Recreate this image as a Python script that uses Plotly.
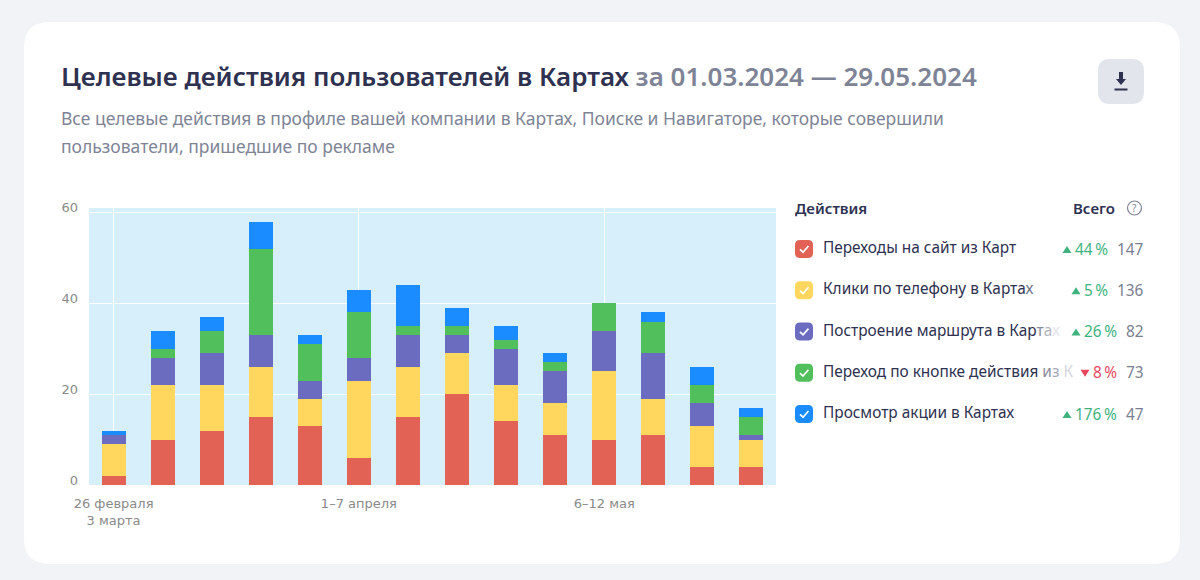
import plotly.graph_objects as go

weeks = ["26 февраля<br>3 марта", "4–10 марта", "11–17 марта", "18–24 марта", "25–31 марта",
         "1–7 апреля", "8–14 апреля", "15–21 апреля", "22–28 апреля", "29 апреля – 5 мая",
         "6–12 мая", "13–19 мая", "20–26 мая", "27 мая – 2 июня"]
tick_weeks = ["26 февраля<br>3 марта", "1–7 апреля", "6–12 мая"]

site_clicks = [2, 10, 12, 15, 13, 6, 15, 20, 14, 11, 10, 11, 4, 4]
phone_clicks = [7, 12, 10, 11, 6, 17, 11, 9, 8, 7, 15, 8, 9, 6]
routes = [2, 6, 7, 7, 4, 5, 7, 4, 8, 7, 9, 10, 5, 1]
action_button = [0, 2, 5, 19, 8, 10, 2, 2, 2, 2, 6, 7, 4, 4]
promo_views = [1, 4, 3, 6, 2, 5, 9, 4, 3, 2, 0, 2, 4, 2]

series_names = ["Переходы на сайт из Карт", "Клики по телефону в Картах", "Построение маршрута в Картах",
                "Переход по кнопке действия из Карт", "Просмотр акции в Картах"]
series_values = [site_clicks, phone_clicks, routes, action_button, promo_views]
series_colors = ["#E26256", "#FFD75F", "#6B6BBF", "#50BF5C", "#1A8CFF"]

legend_labels = ["Переходы на сайт из Карт",
                 "Клики по телефону в Карта<span style=\"color:#6f7287\">х</span>",
                 "Построение маршрута в Кар<span style=\"color:#8a8c9d\">т</span><span style=\"color:#b5b6c1\">а</span><span style=\"color:#e3e3e8\">х</span>",
                 "Переход по кнопке действия<span style=\"color:#8a8c9d\"> и</span><span style=\"color:#a6a8b5\">з</span><span style=\"color:#d5d6dc\"> К</span>",
                 "Просмотр акции в Картах"]
changes = ["44\u202f%", "5\u202f%", "26\u202f%", "8\u202f%", "176\u202f%"]
change_up = [True, True, True, False, True]
totals = ["147", "136", "82", "73", "47"]

title_main = "Целевые действия пользователей в Картах"
title_period = "за 01.03.2024 — 29.05.2024"
subtitle_1 = "Все целевые действия в профиле вашей компании в Картах, Поиске и Навигаторе, которые совершили"
subtitle_2 = "пользователи, пришедшие по рекламе"

W, H = 1200, 580
L, R, T, B = 89, 776, 208, 485
FONT = "Noto Sans"
DARK = "#2E3150"
GRAY = "#7E8496"


def px(x):
    return (x - L) / (R - L)


def py(y):
    return (B - y) / (B - T)


def rrect(x0, y0, x1, y1, r):
    a, b, c, d = px(x0), py(y0), px(x1), py(y1)
    rx, ry = r / (R - L), r / (B - T)
    return (f"M{a + rx},{b} L{c - rx},{b} Q{c},{b} {c},{b - ry} L{c},{d + ry} Q{c},{d} {c - rx},{d} "
            f"L{a + rx},{d} Q{a},{d} {a},{d + ry} L{a},{b - ry} Q{a},{b} {a + rx},{b} Z")


def poly(points):
    return "M" + " L".join(f"{px(x)},{py(y)}" for x, y in points)


def shape_path(path, fill=None, line=None, width=0):
    return dict(type="path", xref="paper", yref="paper", path=path, layer="below",
                fillcolor=fill or "rgba(0,0,0,0)", line=dict(color=line or "rgba(0,0,0,0)", width=width))


def label(x, y, text, size, color, anchor="left", weight=400, family=FONT):
    return dict(xref="paper", yref="paper", x=px(x), y=py(y), text=text, showarrow=False,
                xanchor=anchor, yanchor="middle", align=anchor, xshift=0,
                font=dict(family=family, size=size, color=color, weight=weight), borderpad=0)


fig = go.Figure()
for name, vals, col in zip(series_names, series_values, series_colors):
    fig.add_bar(x=weeks, y=vals, name=name, marker=dict(color=col, line=dict(width=0)))

shapes = [
    shape_path(rrect(24, 22, 1180, 564, 26), fill="#FFFFFF"),
    dict(type="rect", xref="paper", yref="paper", x0=0, x1=1, y0=0, y1=1, layer="below",
         fillcolor="#D6EFFB", line=dict(width=0)),
    shape_path(rrect(1098, 59, 1144, 104, 12), fill="#E2E5EC"),
    shape_path(poly([(1119, 72), (1123, 72), (1123, 79), (1126, 79), (1121, 85), (1116, 79), (1119, 79), (1119, 72)]) + " Z", fill=DARK),
    shape_path(poly([(1114.5, 89.5), (1127.5, 89.5)]), line=DARK, width=2),
    dict(type="circle", xref="paper", yref="paper", x0=px(1127.5), x1=px(1141.5), y0=py(215), y1=py(201),
         layer="below", line=dict(color="#7E8496", width=1.2), fillcolor="rgba(0,0,0,0)"),
]

annotations = [
    label(60, 76, f"{title_main} <span style=\"color:{GRAY}\">{title_period}</span>", 26, DARK, weight=600),
    label(60, 118, subtitle_1, 17.5, GRAY),
    label(60, 146, subtitle_2, 17.5, GRAY),
    label(794, 208, "Действия", 15, DARK, weight=600),
    label(1116, 208, "Всего", 15, DARK, anchor="right", weight=600),
    label(1134.5, 208, "?", 10, "#7E8496", anchor="center"),
]

row_y = [249, 290.3, 331.6, 372.8, 414]
pct_right = [1109, 1109, 1118, 1118, 1118]
tri_center = [1067, 1076, 1076, 1085, 1067]
for i, y in enumerate(row_y):
    shapes.append(shape_path(rrect(795, y - 9, 813, y + 9, 5), fill=series_colors[i]))
    shapes.append(shape_path(poly([(800, y + 0.3), (803, y + 3.2), (808.5, y - 3)]), line="#FFFFFF", width=1.7))
    annotations.append(label(822, y - 1.5, legend_labels[i], 15.4, DARK))
    annotations.append(label(pct_right[i], y, changes[i], 15.4, "#3FB27F" if change_up[i] else "#E5485F", anchor="right"))
    annotations.append(label(1144.5, y, totals[i], 15.4, "#7A8090", anchor="right"))
    tx = tri_center[i]
    if change_up[i]:
        tri = [(tx - 4.5, y + 4), (tx + 4.5, y + 4), (tx, y - 3), (tx - 4.5, y + 4)]
        col = "#3FB27F"
    else:
        tri = [(tx - 4.5, y - 3), (tx + 4.5, y - 3), (tx, y + 4), (tx - 4.5, y - 3)]
        col = "#E5485F"
    shapes.append(shape_path(poly(tri) + " Z", fill=col))

tick_font = dict(family="DejaVu Sans", size=13, color="#8A8A8A")
fig.update_layout(
    width=W, height=H, barmode="stack", bargap=0.51, showlegend=False,
    margin=dict(l=L, r=W - R, t=T, b=H - B, autoexpand=False),
    paper_bgcolor="#F1F3F7", plot_bgcolor="rgba(0,0,0,0)",
    shapes=shapes, annotations=annotations,
    xaxis=dict(type="category", categoryorder="array", categoryarray=weeks,
               tickmode="array", tickvals=tick_weeks, ticktext=tick_weeks,
               tickangle=0, showgrid=True, gridcolor="#FFFFFF", gridwidth=1, zeroline=False,
               showline=False, ticks="", tickfont=tick_font, ticklabelstandoff=9,
               range=[-0.5, 13.5], fixedrange=True),
    yaxis=dict(range=[0, 61], tickmode="array", tickvals=[0, 20, 40, 60],
               showgrid=True, gridcolor="#FFFFFF", gridwidth=1, zeroline=False, showline=False,
               ticks="", tickfont=tick_font, ticklabelstandoff=10, ticklabelshift=-5, fixedrange=True),
)

fig.write_html("out.html", config={"displayModeBar": False},
               post_script="document.body.style.margin='0';document.body.style.overflow='hidden';")
